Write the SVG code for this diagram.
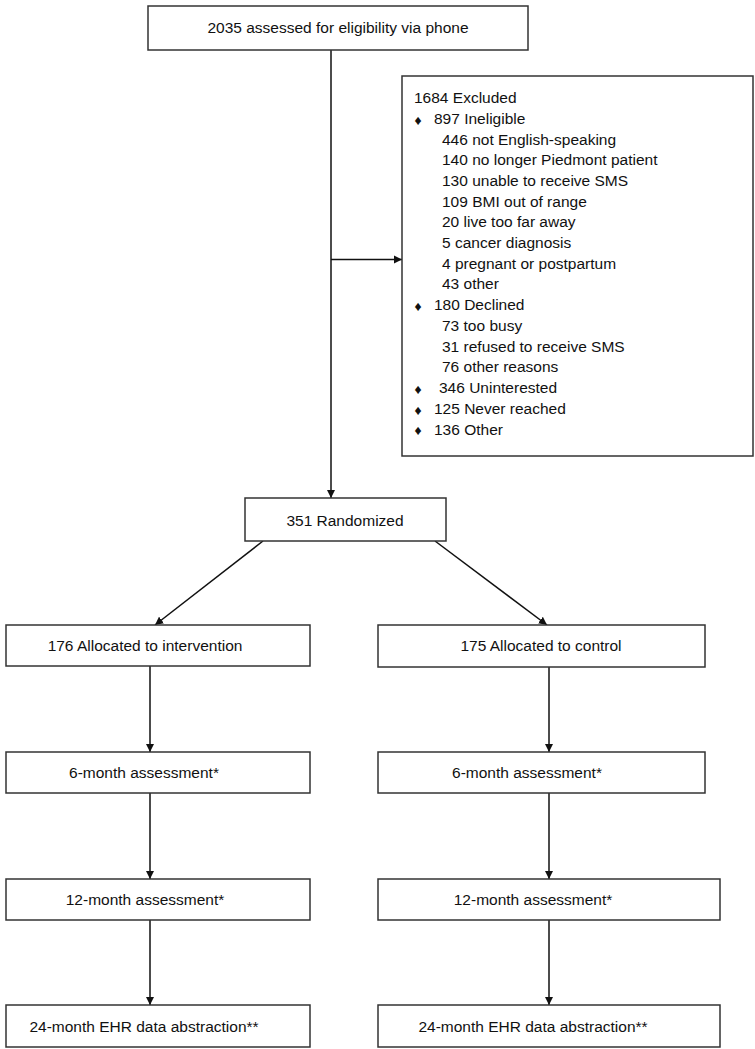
<svg xmlns="http://www.w3.org/2000/svg" width="755" height="1049" viewBox="0 0 755 1049">
<style>
.box{fill:#fff;stroke:#333;stroke-width:1.5}
.t{font-family:"Liberation Sans",Arial,sans-serif;font-size:15.5px;fill:#111}
.c{text-anchor:middle}
.ln{stroke:#111;stroke-width:1.5;fill:none}
.b{font-family:"Liberation Sans","DejaVu Sans",sans-serif;font-size:14px;fill:#111;text-anchor:middle}
</style>
<defs>
<marker id="ah" viewBox="0 0 10 10" refX="10" refY="5" markerWidth="5.5" markerHeight="5.5" orient="auto" markerUnits="strokeWidth">
<path d="M0,0 L10,5 L0,10 z" fill="#111"/>
</marker>
</defs>
<rect width="755" height="1049" fill="#fff"/>
<g id="connectors">
<line class="ln" x1="331" y1="50" x2="331" y2="498" marker-end="url(#ah)"/>
<line class="ln" x1="331" y1="259.5" x2="402" y2="259.5" marker-end="url(#ah)"/>
<line class="ln" x1="263" y1="541" x2="155" y2="625" marker-end="url(#ah)"/>
<line class="ln" x1="435" y1="541" x2="547" y2="625" marker-end="url(#ah)"/>
<line class="ln" x1="150" y1="666" x2="150" y2="752" marker-end="url(#ah)"/>
<line class="ln" x1="549" y1="667" x2="549" y2="752" marker-end="url(#ah)"/>
<line class="ln" x1="150" y1="793" x2="150" y2="879" marker-end="url(#ah)"/>
<line class="ln" x1="549" y1="793" x2="549" y2="879" marker-end="url(#ah)"/>
<line class="ln" x1="150" y1="920" x2="150" y2="1005" marker-end="url(#ah)"/>
<line class="ln" x1="549" y1="920" x2="549" y2="1005" marker-end="url(#ah)"/>
</g>
<g id="assessed">
<rect class="box" x="148" y="6" width="380" height="44"/>
<text class="t c" x="338" y="33">2035 assessed for eligibility via phone</text>
</g>
<g id="excluded">
<rect class="box" x="402" y="76" width="351" height="380"/>
<text class="t" x="414" y="103">1684 Excluded</text>
<text class="b" x="418" y="124.5">♦</text>
<text class="t" x="434" y="124">897 Ineligible</text>
<text class="t" x="442" y="144.5">446 not English-speaking</text>
<text class="t" x="442" y="165">140 no longer Piedmont patient</text>
<text class="t" x="442" y="186">130 unable to receive SMS</text>
<text class="t" x="442" y="206.5">109 BMI out of range</text>
<text class="t" x="442" y="227">20 live too far away</text>
<text class="t" x="442" y="248">5 cancer diagnosis</text>
<text class="t" x="442" y="268.5">4 pregnant or postpartum</text>
<text class="t" x="442" y="289">43 other</text>
<text class="b" x="418" y="310.5">♦</text>
<text class="t" x="434" y="310">180 Declined</text>
<text class="t" x="442" y="330.5">73 too busy</text>
<text class="t" x="442" y="351.5">31 refused to receive SMS</text>
<text class="t" x="442" y="372">76 other reasons</text>
<text class="b" x="418" y="393.5">♦</text>
<text class="t" x="439" y="393">346 Uninterested</text>
<text class="b" x="418" y="414.5">♦</text>
<text class="t" x="434" y="414">125 Never reached</text>
<text class="b" x="418" y="435">♦</text>
<text class="t" x="434" y="434.5">136 Other</text>
</g>
<g id="randomized">
<rect class="box" x="245" y="498" width="201" height="43"/>
<text class="t c" x="345" y="526">351 Randomized</text>
</g>
<g id="alloc-int">
<rect class="box" x="6" y="625" width="304" height="41"/>
<text class="t c" x="145" y="651">176 Allocated to intervention</text>
</g>
<g id="alloc-ctl">
<rect class="box" x="378" y="625" width="327" height="42"/>
<text class="t c" x="541" y="651">175 Allocated to control</text>
</g>
<g id="m6-int">
<rect class="box" x="6" y="752" width="304" height="41"/>
<text class="t c" x="144" y="778">6-month assessment*</text>
</g>
<g id="m6-ctl">
<rect class="box" x="378" y="752" width="327" height="41"/>
<text class="t c" x="527" y="778">6-month assessment*</text>
</g>
<g id="m12-int">
<rect class="box" x="6" y="879" width="304" height="41"/>
<text class="t c" x="145" y="905">12-month assessment*</text>
</g>
<g id="m12-ctl">
<rect class="box" x="378" y="879" width="342" height="41"/>
<text class="t c" x="533" y="905">12-month assessment*</text>
</g>
<g id="m24-int">
<rect class="box" x="6" y="1005" width="304" height="42"/>
<text class="t c" x="144" y="1032">24-month EHR data abstraction**</text>
</g>
<g id="m24-ctl">
<rect class="box" x="378" y="1005" width="342" height="42"/>
<text class="t c" x="533" y="1032">24-month EHR data abstraction**</text>
</g>
</svg>
